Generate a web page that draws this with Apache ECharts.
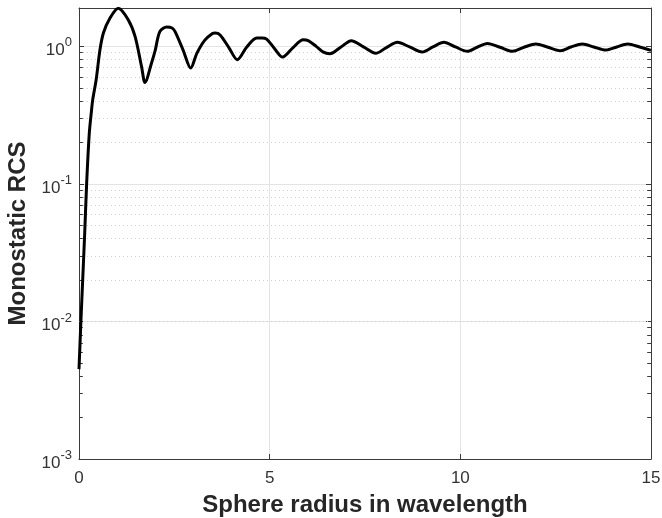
<!DOCTYPE html>
<html>
<head>
<meta charset="utf-8">
<script src="https://cdn.jsdelivr.net/npm/echarts@6/dist/echarts.min.js"></script>
<style>
html,body{margin:0;padding:0;background:#fff;}
#chart{width:662px;height:518px;}
</style>
</head>
<body>
<div id="chart"></div>
<script>
// Sphere radius in wavelength
const radius = [0, 0.05, 0.10, 0.15, 0.20, 0.27, 0.33, 0.36, 0.45, 0.55, 0.64, 0.81, 1.03, 1.29, 1.47, 1.64, 1.73,
  1.91, 2.00, 2.12, 2.30, 2.44, 2.52, 2.73, 2.93, 3.09, 3.30, 3.50, 3.57, 3.70, 3.93, 4.15, 4.40, 4.66, 4.80,
  4.92, 5.12, 5.34, 5.60, 5.88, 6.01, 6.22, 6.41, 6.58, 6.87, 7.14, 7.46, 7.78, 8.06, 8.35, 8.67, 9.00, 9.28,
  9.57, 9.87, 10.18, 10.44, 10.71, 11.04, 11.37, 11.67, 11.98, 12.30, 12.63, 12.90, 13.20, 13.50, 13.82,
  14.10, 14.39, 14.70, 15.00];
// Monostatic RCS (normalized)
const rcs = [0.0045, 0.010, 0.021, 0.044, 0.100, 0.234, 0.346, 0.41, 0.571, 0.944, 1.25, 1.60, 1.89, 1.56, 1.18, 0.713, 0.546,
  0.77, 0.94, 1.28, 1.38, 1.36, 1.28, 0.94, 0.695, 0.89, 1.11, 1.24, 1.25, 1.21, 0.98, 0.80, 0.99, 1.15, 1.15,
  1.13, 0.97, 0.835, 0.97, 1.115, 1.10, 1.00, 0.907, 0.885, 0.99, 1.10, 0.99, 0.89, 0.98, 1.07, 0.99, 0.91, 0.99,
  1.07, 0.99, 0.92, 0.985, 1.05, 0.985, 0.92, 0.985, 1.04, 0.985, 0.93, 0.99, 1.04, 0.99, 0.94,
  0.99, 1.04, 0.99, 0.935];
// Axis settings
const xTicks = [0, 5, 10, 15];
const yMin = 0.001, yMax = 1.9;
const minorGridValues = [];
[0.001, 0.01, 0.1].forEach(d => { for (let k = 2; k <= 9; k++) minorGridValues.push(+(d * k).toPrecision(3)); });

const chart = echarts.init(document.getElementById('chart'), null, {renderer: 'canvas'});
const points = radius.map((r, i) => [r, rcs[i]]);

function yLabel(v) {
  const e = Math.round(Math.log10(v));
  if (Math.abs(v - Math.pow(10, e)) / Math.pow(10, e) > 1e-6) return '';
  return '{b|10}{s|' + e + '}';
}

const minorGridLines = minorGridValues.map(v => ({yAxis: v}));
const minorTicks = [];
minorGridValues.forEach(v => {
  minorTicks.push([{coord: [0, v]}, {coord: [0.1, v]}]);
  minorTicks.push([{coord: [14.9, v]}, {coord: [15, v]}]);
});

const axisColor = '#3a3a3a';
const labelColor = '#333';
const font = 'Liberation Sans, Arial, Helvetica, sans-serif';

chart.setOption({
  animation: false,
  backgroundColor: '#fff',
  grid: {left: 79, right: 11, top: 8, bottom: 59, containLabel: false, outerBoundsMode: 'none'},
  xAxis: [{
    type: 'value', min: 0, max: 15, interval: 5, position: 'bottom',
    name: 'Sphere radius in wavelength', nameLocation: 'middle', nameGap: 34,
    nameTextStyle: {fontSize: 24, fontWeight: 'bold', color: '#262626', fontFamily: font},
    axisLine: {show: true, onZero: false, lineStyle: {color: axisColor, width: 1}},
    axisTick: {show: true, inside: true, length: 5, lineStyle: {color: axisColor}},
    axisLabel: {color: labelColor, fontSize: 17, fontFamily: font, margin: 11,
      formatter: v => xTicks.indexOf(v) >= 0 ? String(v) : ''},
    splitLine: {show: true, lineStyle: {color: '#e4e4e4', width: 1, type: 'solid'}}
  }, {
    type: 'value', min: 0, max: 15, interval: 5, position: 'top',
    axisLine: {show: true, onZero: false, lineStyle: {color: axisColor, width: 1}},
    axisTick: {show: true, inside: true, length: 5, lineStyle: {color: axisColor}},
    axisLabel: {show: false}, splitLine: {show: false}
  }],
  yAxis: [{
    type: 'log', logBase: 10, min: yMin, max: yMax, position: 'left',
    name: 'Monostatic RCS', nameLocation: 'middle', nameGap: 37, nameRotate: 90,
    nameTextStyle: {fontSize: 24, fontWeight: 'bold', color: '#262626', fontFamily: font},
    axisLine: {show: true, onZero: false, lineStyle: {color: axisColor, width: 1}},
    axisTick: {show: true, inside: true, length: 5, lineStyle: {color: axisColor}},
    axisLabel: {color: labelColor, fontFamily: font, margin: 7, showMaxLabel: false,
      formatter: yLabel,
      rich: {
        b: {fontSize: 17, color: labelColor, fontFamily: font, padding: [8, 0, 0, 0]},
        s: {fontSize: 13, color: labelColor, fontFamily: font, padding: [0, 0, 7, 0]}
      }},
    splitLine: {show: true, lineStyle: {color: '#e4e4e4', width: 1, type: 'solid'}}
  }, {
    type: 'log', logBase: 10, min: yMin, max: yMax, position: 'right',
    axisLine: {show: true, onZero: false, lineStyle: {color: axisColor, width: 1}},
    axisTick: {show: true, inside: true, length: 5, lineStyle: {color: axisColor}},
    axisLabel: {show: false}, splitLine: {show: false}
  }],
  series: [{
    type: 'line', xAxisIndex: 0, yAxisIndex: 0, data: [], silent: true,
    markLine: {
      silent: true, symbol: ['none', 'none'], label: {show: false},
      lineStyle: {color: '#d0d0d0', width: 1, type: [1, 3]},
      data: minorGridLines
    }
  }, {
    type: 'line', xAxisIndex: 0, yAxisIndex: 0, data: [], silent: true,
    markLine: {
      silent: true, symbol: ['none', 'none'], label: {show: false},
      lineStyle: {color: axisColor, width: 1, type: 'solid'},
      data: minorTicks
    }
  }, {
    type: 'line', xAxisIndex: 0, yAxisIndex: 0, data: points,
    showSymbol: false, smooth: 0.3, silent: true, z: 5,
    lineStyle: {color: '#000', width: 3}
  }]
});
</script>
</body>
</html>
